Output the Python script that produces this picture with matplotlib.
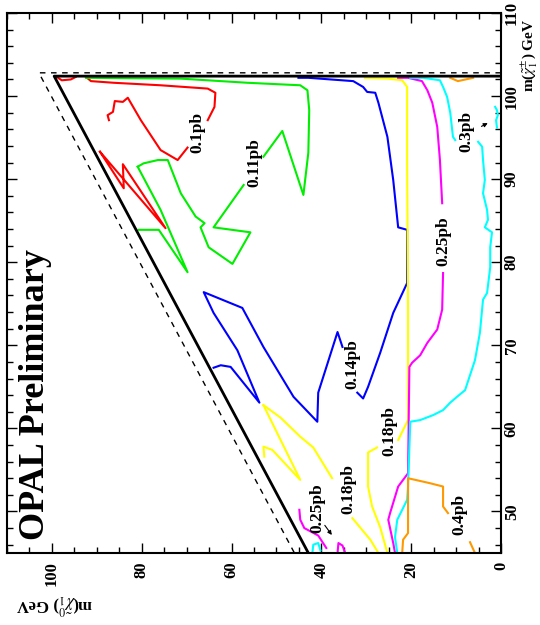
import matplotlib
matplotlib.use("Agg")
import matplotlib.pyplot as plt
from matplotlib.ticker import MultipleLocator

plt.rcParams["font.family"] = ["Liberation Serif", "DejaVu Serif"]
plt.rcParams["mathtext.fontset"] = "stix"

# m(chi0) on the horizontal axis (reversed), m(chi+-) on the vertical one
# kinematic limits
limit_n = [0.0, 99.5, 42.9]
limit_c = [102.4, 102.4, 45.0]
diag_n = [0.0, 102.9, 46.0]
diag_c = [102.8, 102.8, 45.0]

# 0.1 pb (red)
red_blob = ([98.9, 97.8, 95.8, 94.7], [102.3, 101.9, 102.0, 102.3])
red_a = ([92.4, 91.3, 86.2, 75.8, 65.3, 63.6, 63.8, 65.3],
         [102.3, 101.8, 101.6, 101.3, 100.9, 100.4, 98.7, 97.1])
red_b = ([69.8, 72.0, 75.8, 80.2, 83.1, 84.2, 86.0, 86.4, 87.6, 87.3],
         [93.8, 92.3, 93.5, 97.1, 99.8, 99.3, 99.4, 98.1, 97.7, 97.1])
red_z = ([89.3, 84.0, 84.2, 74.7, 89.3], [93.3, 88.9, 91.8, 84.1, 93.3])

# 0.11 pb (green)
green_a = ([92.4, 71.3, 56.4, 44.7, 43.1, 42.7, 42.9, 44.0, 48.7, 52.9],
           [102.2, 102.1, 101.6, 101.3, 100.7, 98.3, 93.2, 88.1, 95.8, 92.7])
green_b = ([57.3, 64.0, 55.8, 59.8, 65.1, 66.9, 66.0, 68.0, 71.3, 74.2, 76.4, 79.6, 80.9],
           [89.3, 84.2, 83.6, 79.8, 81.8, 84.2, 84.7, 85.5, 88.3, 92.3, 92.3, 91.9, 91.5])
green_c = ([80.9, 75.8, 69.8, 76.2, 80.7], [91.5, 86.3, 78.8, 83.9, 83.9])

# 0.14 pb (blue)
blue_a = ([45.1, 42.9, 32.9, 30.7, 29.8, 28.0, 27.3, 25.3, 24.0, 22.9, 20.9, 20.9,
           24.0, 26.9, 29.6, 30.7, 32.0],
          [102.2, 102.2, 101.8, 101.1, 100.5, 100.4, 99.2, 95.1, 89.9, 84.2, 83.9, 77.5,
           73.9, 69.1, 65.0, 63.6, 64.3])
blue_b = ([35.3, 36.4, 40.7, 40.9, 46.2, 52.9, 57.6, 66.2, 64.0, 58.7, 53.8, 60.2, 62.4, 64.0],
          [69.8, 71.6, 64.3, 60.8, 63.8, 69.8, 74.5, 76.4, 73.9, 69.4, 63.1, 67.4, 67.6, 67.3])

# 0.18 pb (yellow)
yellow_a = ([30.3, 25.1, 22.0, 20.9, 20.9, 20.7, 20.7, 22.9],
            [102.2, 102.1, 101.9, 101.1, 92.3, 74.3, 61.0, 58.6])
yellow_b = ([27.6, 29.6, 29.6, 28.7, 26.9, 25.3], [57.7, 57.1, 53.0, 50.6, 48.1, 45.0])
yellow_c = ([52.9, 49.1, 44.7, 41.8, 37.6], [62.8, 61.3, 59.0, 57.7, 54.0])
yellow_d = ([33.1, 29.1, 27.3], [49.2, 46.6, 45.0])
yellow_v = ([52.9, 44.7, 50.9, 52.9, 52.7], [62.8, 53.8, 57.4, 57.8, 56.6])

# 0.25 pb (magenta)
magenta_a = ([22.9, 20.7, 17.6, 16.4, 15.3, 14.2, 13.6, 13.1],
             [102.2, 102.2, 101.8, 100.7, 99.2, 96.3, 92.3, 87.1])
magenta_b = ([12.9, 13.1, 14.2, 16.4, 18.0, 19.8, 20.4, 20.7, 22.9, 24.7, 25.1, 24.0, 23.6],
             [78.7, 74.3, 71.9, 70.3, 68.8, 67.9, 67.4, 54.6, 53.0, 49.8, 49.0, 46.2, 45.0])
magenta_c = ([44.9, 44.7, 43.8, 40.7, 38.9], [50.2, 49.0, 48.0, 47.1, 45.6])
magenta_d = ([36.4, 36.2, 35.3, 34.7], [45.0, 46.2, 45.9, 45.0])

# 0.3 pb (cyan)
cyan_a = ([20.2, 17.3, 13.6, 12.9, 12.0, 11.3, 10.7, 10.2],
          [102.2, 102.2, 101.9, 101.1, 99.9, 98.0, 95.1, 94.7])
cyan_b = ([1.3, 0.9, 0.7, 1.1, 0.9], [98.7, 98.3, 97.7, 97.1, 96.2])
cyan_c = ([5.1, 4.2, 4.0, 3.6, 4.0, 3.1, 2.9, 3.6, 2.0, 2.4, 2.4, 3.1, 4.0, 4.7, 5.8,
           8.0, 9.8, 11.3, 12.9, 15.1, 18.0, 20.2, 20.7, 20.9, 23.1, 23.6, 23.1],
          [94.5, 93.9, 92.3, 89.9, 88.3, 86.3, 85.1, 84.2, 83.6, 81.8, 79.4, 76.3, 75.5, 71.5, 68.2,
           64.6, 63.8, 63.1, 62.2, 61.6, 61.0, 60.8, 53.0, 51.4, 49.0, 46.9, 45.0])
cyan_d = ([42.0, 41.8, 40.7, 40.2], [45.0, 46.0, 46.2, 45.3])

# 0.4 pb (orange)
orange_a = ([11.3, 9.6, 6.2], [102.2, 101.8, 102.2])
orange_b = ([22.0, 21.8, 20.7, 20.7, 15.8, 12.9, 12.9, 11.8],
            [45.0, 46.6, 47.4, 54.0, 53.4, 53.0, 50.6, 49.8])
orange_c = ([6.9, 5.8], [46.3, 45.0])

label_text = ["0.1pb", "0.11pb", "0.14pb", "0.18pb", "0.18pb", "0.25pb", "0.25pb", "0.3pb", "0.4pb"]
label_n = [67.6, 54.9, 33.1, 24.9, 34.0, 12.9, 40.9, 7.8, 9.3]
label_c = [95.6, 92.0, 67.8, 59.7, 52.7, 82.6, 50.4, 95.8, 49.6]

arrow_from = [(4.9, 96.2), (39.6, 48.6)]
arrow_to = [(2.4, 96.9), (37.3, 46.9)]

contours = [
    ("#ff0000", [red_blob, red_a, red_b, red_z]),
    ("#00ee00", [green_a, green_b, green_c]),
    ("#0000ff", [blue_a, blue_b]),
    ("#ffff00", [yellow_a, yellow_b, yellow_c, yellow_d, yellow_v]),
    ("#ff00ff", [magenta_a, magenta_b, magenta_c, magenta_d]),
    ("#00ffff", [cyan_a, cyan_b, cyan_c, cyan_d]),
    ("#ff9900", [orange_a, orange_b, orange_c]),
]

fig = plt.figure(figsize=(5.4, 6.25), dpi=100)
ax = fig.add_axes([7 / 540, 72 / 625, 494 / 540, 540 / 625])

for color, segments in contours:
    for seg_n, seg_c in segments:
        ax.plot(seg_n, seg_c, color=color, lw=1.5, solid_joinstyle="round")

ax.plot(diag_n, diag_c, color="black", lw=1.0, ls=(0, (4, 4)))
ax.plot(limit_n, limit_c, color="black", lw=2.0)

for text, n, c in zip(label_text, label_n, label_c):
    ax.text(n, c, text, rotation=90, ha="center", va="center",
            fontsize=12.5, fontweight="bold")

for start, end in zip(arrow_from, arrow_to):
    ax.annotate("", xy=end, xytext=start,
                arrowprops=dict(arrowstyle="-|>", color="black", lw=0.8,
                                mutation_scale=6))

ax.set_xlim(110, 0)
ax.set_ylim(45, 110)
ax.xaxis.set_major_locator(MultipleLocator(20))
ax.xaxis.set_minor_locator(MultipleLocator(5))
ax.yaxis.set_major_locator(MultipleLocator(10))
ax.yaxis.set_minor_locator(MultipleLocator(2))
ax.tick_params(which="both", direction="in", top=True, bottom=True,
               left=True, right=True, labelleft=False, labelright=True,
               width=1.0)
ax.tick_params(which="major", length=7)
ax.tick_params(which="minor", length=4)
ax.tick_params(axis="x", labelrotation=90, pad=6)
ax.tick_params(axis="y", labelrotation=90, pad=2)
for lab in ax.get_xticklabels() + ax.get_yticklabels():
    lab.set_fontweight("bold")
    lab.set_fontsize(12)
for lab in ax.get_yticklabels():
    lab.set_verticalalignment("center")
for spine in ax.spines.values():
    spine.set_linewidth(1.5)

ax.text(0.057, 0.024, "OPAL Preliminary", transform=ax.transAxes, rotation=90,
        ha="center", va="bottom", fontsize=26, fontweight="bold")
ax.text(1.057, 0.99, r"m($\tilde{\chi}^{\pm}_{1}$) GeV", transform=ax.transAxes,
        rotation=90, ha="center", va="top", fontsize=11, fontweight="bold")
ax.text(0.095, -0.096, r"m($\tilde{\chi}^{0}_{1}$) GeV", transform=ax.transAxes,
        rotation=180, ha="center", va="center", fontsize=12, fontweight="bold")

fig.savefig("out.png", dpi=100)
